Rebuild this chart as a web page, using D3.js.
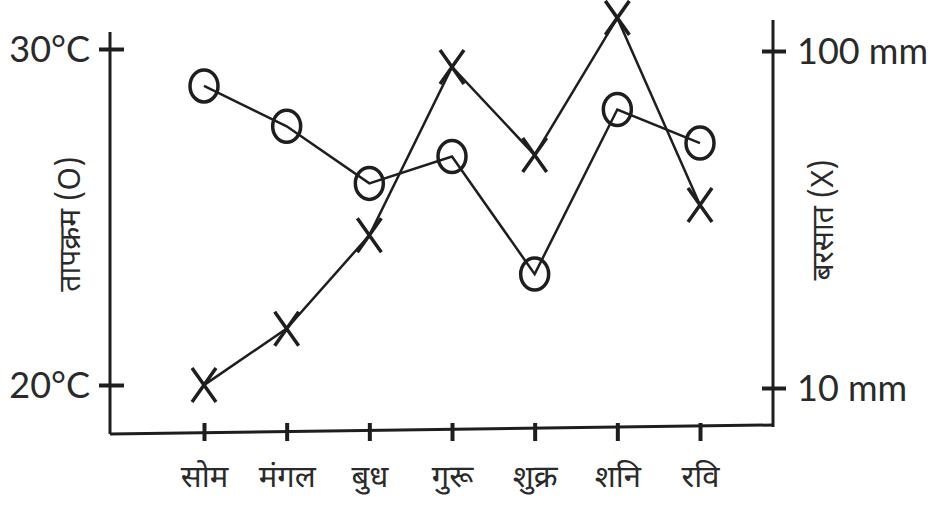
<!DOCTYPE html>
<html>
<head>
<meta charset="utf-8">
<script src="https://cdn.jsdelivr.net/npm/d3@7"></script>
<style>
  body { margin: 0; background: #fff; }
  text { font-family: Lato, "Open Sans", sans-serif; fill: #2a2a2a; }
  .hi { font-family: "Noto Sans Devanagari", "Lohit Devanagari", "Noto Sans", sans-serif; }
</style>
</head>
<body>
<div id="app"></div>
<script>
// days of the week (Hindi)
var days = ['सोम', 'मंगल', 'बुध', 'गुरू', 'शुक्र', 'शनि', 'रवि'];
// temperature, °C  (O)
var temp = [28.9, 27.7, 26.0, 26.8, 23.3, 28.2, 27.2];
// rainfall, mm  (X)
var rain = [10.2, 15.0, 28.4, 89.7, 49.1, 125.4, 34.9];
var tempTicks = [20, 30];
var rainTicks = [10, 100];

var width = 933, height = 513;
var leftX = 110, rightX = 773;

var svg = d3.select('#app').append('svg')
  .attr('width', width)
  .attr('height', height);

var x = d3.scalePoint()
  .domain(days)
  .range([204, 700]);

var yTemp = d3.scaleLinear()
  .domain([20, 30])
  .range([385, 49]);

var yRain = d3.scaleLog()
  .domain([10, 100])
  .range([388, 51]);

var ink = '#1e1e1e';

// left axis
svg.append('line')
  .attr('x1', leftX).attr('x2', leftX)
  .attr('y1', 32).attr('y2', 434)
  .attr('stroke', ink).attr('stroke-width', 3);

var gl = svg.append('g')
  .attr('transform', 'translate(' + leftX + ',0)')
  .call(d3.axisLeft(yTemp).tickValues(tempTicks).tickFormat(function (d) { return d + '°C'; }));
gl.select('.domain').remove();
gl.selectAll('.tick line')
  .attr('x1', -11).attr('x2', 14)
  .attr('stroke', ink).attr('stroke-width', 4);
gl.selectAll('.tick text')
  .attr('x', -20).attr('dy', '0.36em')
  .style('font-size', '36px').style('font-family', 'Lato').attr('fill', '#2a2a2a');

// right axis
svg.append('line')
  .attr('x1', rightX).attr('x2', rightX)
  .attr('y1', 20).attr('y2', 427)
  .attr('stroke', ink).attr('stroke-width', 3);

var gr = svg.append('g')
  .attr('transform', 'translate(' + rightX + ',0)')
  .call(d3.axisRight(yRain).tickValues(rainTicks).tickFormat(function (d) { return d + ' mm'; }));
gr.select('.domain').remove();
gr.selectAll('.tick line')
  .attr('x1', -11).attr('x2', 13)
  .attr('stroke', ink).attr('stroke-width', 4);
gr.selectAll('.tick text')
  .attr('x', 24).attr('dy', '0.36em')
  .style('font-size', '36px').style('font-family', 'Lato').attr('fill', '#2a2a2a');

// bottom axis, drawn a little off level like the original
var angle = Math.atan2(425 - 434, rightX - leftX) * 180 / Math.PI;
var gb = svg.append('g')
  .attr('transform', 'translate(' + leftX + ',434) rotate(' + angle + ')');
gb.append('line')
  .attr('x1', 0).attr('x2', rightX - leftX + 1)
  .attr('stroke', ink).attr('stroke-width', 3);

var xAxis = svg.append('g')
  .attr('transform', 'translate(0,432)')
  .call(d3.axisBottom(x).tickSizeOuter(0));
xAxis.select('.domain').remove();
xAxis.selectAll('.tick line')
  .attr('y1', -9).attr('y2', 9)
  .attr('stroke', ink).attr('stroke-width', 4);
xAxis.selectAll('.tick text')
  .attr('class', 'hi')
  .attr('y', 55)
  .attr('dy', 0)
  .style('font-size', '31px')
  .attr('fill', '#2a2a2a');

// axis titles
svg.append('text')
  .attr('class', 'hi')
  .attr('transform', 'translate(80,224) rotate(-90)')
  .style('text-anchor', 'middle')
  .style('font-size', '30px')
  .text('तापक्रम (O)');

svg.append('text')
  .attr('class', 'hi')
  .attr('transform', 'translate(833,220) rotate(-90)')
  .style('text-anchor', 'middle')
  .style('font-size', '30px')
  .text('बरसात (X)');

// lines
var tempLine = d3.line()
  .x(function (d, i) { return x(days[i]); })
  .y(function (d) { return yTemp(d); });

var rainLine = d3.line()
  .x(function (d, i) { return x(days[i]); })
  .y(function (d) { return yRain(d); });

svg.append('path')
  .datum(temp)
  .attr('d', tempLine)
  .attr('fill', 'none')
  .attr('stroke', ink)
  .attr('stroke-width', 2.5);

svg.append('path')
  .datum(rain)
  .attr('d', rainLine)
  .attr('fill', 'none')
  .attr('stroke', ink)
  .attr('stroke-width', 2.5);

// O markers
svg.selectAll('ellipse.t')
  .data(temp)
  .enter()
  .append('ellipse')
  .attr('class', 't')
  .attr('cx', function (d, i) { return x(days[i]); })
  .attr('cy', function (d) { return yTemp(d); })
  .attr('rx', 14)
  .attr('ry', 16)
  .attr('fill', 'none')
  .attr('stroke', ink)
  .attr('stroke-width', 3.5);

// X markers
svg.selectAll('path.r')
  .data(rain)
  .enter()
  .append('path')
  .attr('class', 'r')
  .attr('transform', function (d, i) { return 'translate(' + x(days[i]) + ',' + yRain(d) + ')'; })
  .attr('d', 'M-12,-17L12,17M12,-17L-12,17')
  .attr('fill', 'none')
  .attr('stroke', ink)
  .attr('stroke-width', 3.5);
</script>
</body>
</html>
